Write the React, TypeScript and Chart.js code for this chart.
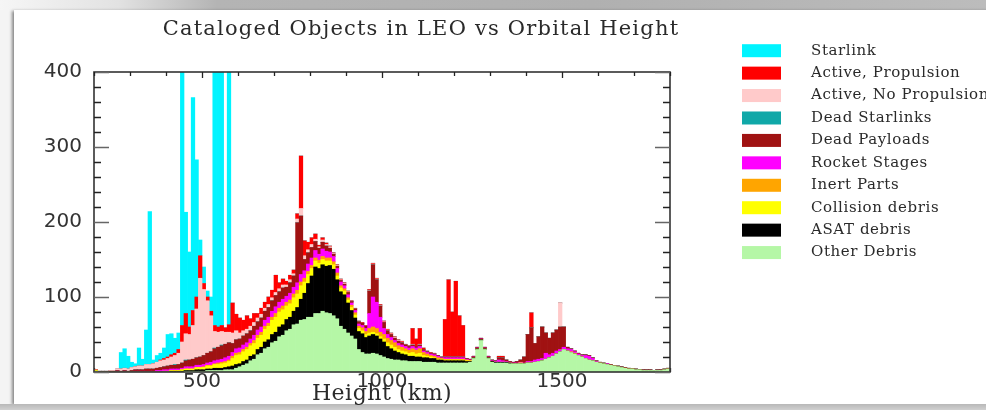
import React, { useEffect, useRef } from "react";
import { Chart, registerables } from "chart.js";
Chart.register(...registerables);

const BIN_START = 200;
const BIN_WIDTH = 10;
const X_MIN = 200;
const X_MAX = 1800;
const Y_MIN = 0;
const Y_MAX = 400;
const xTickValues = [500, 1000, 1500];
const yTickValues = [0, 100, 200, 300, 400];
const chartTitle = "Cataloged Objects in LEO vs Orbital Height";
const xAxisTitle = "Height (km)";

// 10 km bins, 200..1790 km (one row = 100 km)
const otherDebris = [
  1, 0, 0, 0, 0, 0, 0, 0, 0, 0,
  0, 0, 0, 0, 0, 0, 0, 0, 0, 0,
  0, 0, 0, 0, 0, 1, 1, 1, 1, 1,
  1, 2, 2, 2, 2, 2, 3, 3, 3, 5,
  7, 9, 11, 15, 17, 23, 25, 31, 33, 39,
  41, 47, 49, 55, 57, 63, 64, 69, 70, 73,
  73, 78, 78, 81, 79, 78, 75, 71, 61, 57,
  52, 48, 44, 30, 26, 24, 24, 25, 24, 22,
  20, 18, 17, 16, 16, 15, 15, 14, 14, 14,
  14, 13, 13, 13, 13, 12, 12, 12, 12, 12,
  12, 12, 12, 12, 13, 18, 30, 42, 30, 18,
  13, 12, 12, 12, 12, 11, 11, 11, 11, 11,
  12, 12, 13, 14, 15, 17, 19, 21, 24, 27,
  30, 28, 26, 24, 22, 20, 18, 16, 15, 13,
  12, 11, 10, 9, 8, 7, 6, 5, 4, 4,
  3, 3, 2, 2, 2, 2, 2, 2, 3, 4,
];
const asatDebris = [
  0, 0, 0, 0, 0, 0, 0, 0, 0, 0,
  0, 0, 0, 0, 0, 0, 0, 0, 0, 0,
  0, 1, 1, 1, 1, 1, 1, 1, 2, 2,
  2, 2, 2, 3, 3, 3, 3, 4, 5, 5,
  4, 5, 5, 6, 6, 7, 8, 9, 10, 11,
  12, 13, 14, 15, 16, 18, 22, 28, 35, 45,
  55, 62, 60, 62, 62, 64, 62, 52, 46, 46,
  40, 34, 28, 24, 25, 22, 24, 25, 24, 22,
  20, 16, 14, 12, 10, 9, 8, 7, 7, 6,
  6, 6, 6, 5, 5, 4, 4, 3, 3, 3,
  3, 3, 3, 2, 1, 1, 1, 1, 1, 1,
  1, 1, 1, 1, 1, 1, 0, 0, 0, 0,
  0, 0, 0, 0, 0, 0, 0, 0, 0, 0,
  0, 0, 0, 0, 0, 0, 0, 0, 0, 0,
  0, 0, 0, 0, 0, 0, 0, 0, 0, 0,
  0, 0, 0, 0, 0, 0, 0, 0, 0, 0,
];
const collisionDebris = [
  1, 0, 0, 0, 0, 0, 0, 0, 0, 0,
  0, 0, 0, 0, 0, 0, 0, 0, 0, 1,
  1, 1, 1, 1, 2, 2, 2, 2, 3, 3,
  3, 4, 4, 5, 5, 6, 6, 7, 10, 12,
  12, 13, 14, 14, 15, 15, 16, 17, 18, 19,
  20, 20, 20, 18, 18, 18, 18, 18, 15, 12,
  10, 8, 7, 7, 7, 6, 6, 5, 5, 5,
  4, 4, 4, 4, 4, 4, 4, 3, 3, 3,
  4, 5, 5, 5, 4, 4, 4, 4, 5, 4,
  5, 3, 2, 2, 1, 1, 1, 1, 1, 1,
  1, 1, 1, 1, 1, 0, 0, 0, 0, 0,
  0, 0, 0, 0, 0, 0, 0, 0, 1, 0,
  0, 0, 0, 0, 0, 0, 0, 0, 0, 0,
  0, 0, 0, 0, 0, 0, 0, 0, 0, 0,
  0, 0, 0, 0, 0, 0, 0, 0, 0, 0,
  0, 0, 0, 0, 0, 0, 0, 0, 0, 0,
];
const inertParts = [
  1, 0, 0, 0, 0, 0, 0, 0, 0, 0,
  0, 0, 0, 0, 0, 0, 0, 0, 0, 0,
  0, 0, 0, 0, 0, 0, 0, 0, 0, 0,
  1, 1, 1, 1, 2, 2, 2, 2, 3, 3,
  3, 3, 3, 3, 4, 4, 4, 4, 4, 4,
  5, 5, 5, 5, 5, 5, 5, 5, 5, 4,
  4, 4, 4, 4, 4, 4, 4, 4, 3, 3,
  3, 3, 3, 3, 4, 4, 6, 7, 7, 6,
  6, 6, 6, 6, 5, 5, 4, 4, 5, 5,
  6, 4, 3, 2, 2, 2, 1, 1, 1, 1,
  1, 1, 1, 1, 0, 0, 0, 0, 0, 0,
  0, 0, 0, 0, 0, 0, 0, 0, 0, 0,
  0, 0, 0, 0, 0, 0, 0, 0, 0, 0,
  0, 0, 1, 1, 0, 0, 0, 0, 0, 0,
  0, 0, 0, 0, 0, 0, 0, 0, 0, 0,
  0, 0, 0, 0, 0, 0, 0, 0, 0, 0,
];
const rocketStages = [
  0, 0, 0, 0, 0, 0, 1, 0, 1, 0,
  0, 1, 1, 1, 1, 1, 1, 2, 2, 2,
  2, 2, 2, 2, 2, 3, 3, 3, 3, 3,
  3, 3, 4, 4, 4, 4, 5, 5, 5, 6,
  6, 6, 6, 6, 7, 7, 7, 8, 8, 8,
  9, 8, 9, 8, 9, 9, 10, 10, 10, 10,
  10, 10, 8, 10, 9, 8, 7, 6, 5, 4,
  4, 3, 3, 3, 3, 4, 20, 40, 35, 20,
  8, 5, 4, 3, 3, 3, 3, 3, 3, 3,
  3, 2, 2, 2, 2, 2, 1, 2, 2, 2,
  2, 2, 2, 1, 1, 1, 1, 1, 1, 1,
  1, 1, 3, 2, 1, 1, 1, 1, 1, 1,
  2, 2, 3, 3, 3, 8, 4, 4, 4, 3,
  3, 3, 3, 2, 2, 2, 4, 5, 3, 1,
  0, 0, 1, 0, 0, 0, 0, 0, 0, 0,
  0, 0, 0, 0, 0, 0, 0, 0, 0, 0,
];
const deadPayloads = [
  0, 1, 1, 1, 1, 1, 1, 1, 1, 1,
  2, 2, 2, 2, 3, 3, 3, 3, 4, 4,
  5, 5, 5, 6, 7, 8, 9, 10, 10, 11,
  12, 13, 14, 16, 17, 18, 18, 18, 12, 12,
  12, 12, 12, 11, 12, 11, 12, 12, 13, 14,
  15, 14, 15, 12, 14, 15, 80, 78, 15, 15,
  14, 12, 8, 9, 7, 5, 3, 3, 2, 2,
  3, 2, 2, 3, 3, 3, 30, 43, 30, 15,
  8, 5, 4, 3, 3, 3, 2, 2, 2, 2,
  2, 2, 1, 1, 1, 1, 1, 1, 1, 1,
  1, 1, 1, 1, 1, 1, 1, 1, 1, 1,
  1, 1, 3, 4, 2, 1, 1, 2, 3, 8,
  36, 45, 22, 30, 42, 27, 22, 27, 28, 30,
  27, 2, 1, 1, 1, 1, 1, 1, 1, 1,
  1, 1, 0, 1, 0, 1, 1, 1, 1, 0,
  1, 0, 1, 1, 1, 0, 1, 1, 1, 1,
];
const deadStarlinks = [
  0, 0, 0, 0, 0, 0, 0, 0, 0, 0,
  0, 0, 0, 0, 0, 0, 0, 0, 0, 0,
  0, 0, 1, 0, 0, 1, 0, 0, 0, 0,
  0, 0, 0, 1, 0, 1, 0, 0, 0, 0,
  0, 0, 0, 0, 0, 0, 0, 0, 0, 0,
  0, 0, 0, 0, 0, 0, 0, 0, 0, 0,
  0, 0, 0, 0, 0, 0, 0, 0, 0, 0,
  0, 0, 0, 0, 0, 0, 0, 0, 0, 0,
  0, 0, 0, 0, 0, 0, 0, 0, 0, 0,
  0, 0, 0, 0, 0, 0, 0, 0, 0, 0,
  0, 0, 0, 0, 0, 0, 0, 0, 0, 0,
  0, 0, 0, 0, 0, 0, 0, 0, 0, 0,
  0, 0, 0, 0, 0, 0, 0, 0, 0, 0,
  0, 0, 0, 0, 0, 0, 0, 0, 0, 0,
  0, 0, 0, 0, 0, 0, 0, 0, 0, 0,
  0, 0, 0, 0, 0, 0, 0, 0, 0, 0,
];
const activeNoPropulsion = [
  0, 0, 0, 0, 1, 1, 2, 3, 3, 3,
  4, 4, 5, 5, 6, 6, 7, 8, 9, 9,
  10, 11, 12, 15, 28, 35, 34, 45, 65, 105,
  88, 70, 48, 22, 20, 18, 16, 14, 14, 12,
  8, 7, 6, 6, 5, 5, 5, 4, 4, 4,
  4, 4, 4, 3, 4, 3, 5, 10, 5, 4,
  4, 3, 2, 3, 2, 2, 1, 1, 1, 1,
  1, 0, 0, 0, 0, 0, 1, 1, 1, 1,
  1, 1, 1, 1, 1, 1, 0, 0, 1, 0,
  1, 0, 0, 0, 0, 0, 0, 0, 0, 0,
  0, 0, 0, 0, 0, 0, 0, 0, 0, 0,
  0, 0, 0, 0, 0, 0, 0, 0, 0, 0,
  0, 0, 0, 0, 0, 0, 0, 0, 0, 32,
  0, 0, 0, 0, 0, 0, 0, 0, 0, 0,
  0, 0, 0, 0, 0, 0, 0, 0, 0, 0,
  0, 0, 0, 0, 0, 0, 0, 0, 0, 0,
];
const activePropulsion = [
  0, 0, 0, 0, 0, 0, 0, 0, 0, 0,
  0, 0, 0, 0, 0, 0, 0, 0, 1, 2,
  2, 3, 3, 5, 22, 27, 10, 20, 16, 30,
  8, 5, 6, 8, 7, 8, 6, 10, 40, 22,
  20, 14, 18, 10, 12, 6, 8, 8, 10, 10,
  23, 8, 8, 5, 6, 5, 7, 70, 20, 10,
  9, 7, 2, 3, 2, 1, 1, 1, 1, 1,
  1, 1, 1, 1, 1, 1, 1, 1, 1, 1,
  1, 1, 1, 1, 1, 1, 1, 1, 21, 10,
  21, 2, 1, 1, 1, 0, 0, 50, 103, 60,
  101, 55, 42, 0, 0, 0, 0, 0, 0, 0,
  0, 0, 2, 2, 0, 0, 0, 0, 0, 0,
  0, 20, 0, 0, 0, 0, 0, 0, 0, 0,
  0, 0, 0, 0, 0, 0, 0, 0, 0, 0,
  0, 0, 0, 0, 0, 0, 0, 0, 0, 0,
  0, 0, 0, 0, 0, 0, 0, 0, 0, 0,
];
const starlink = [
  0, 0, 0, 0, 0, 0, 0, 22, 26, 17,
  7, 4, 24, 9, 46, 204, 5, 9, 9, 14,
  30, 28, 20, 22, 350, 135, 100, 284, 183, 21,
  22, 8, 19, 359, 360, 359, 0, 357, 0, 0,
  0, 0, 0, 0, 0, 0, 0, 0, 0, 0,
  0, 0, 0, 0, 0, 0, 0, 0, 0, 0,
  0, 0, 0, 0, 0, 0, 0, 0, 0, 0,
  0, 0, 0, 0, 0, 0, 0, 0, 0, 0,
  0, 0, 0, 0, 0, 0, 0, 0, 0, 0,
  0, 0, 0, 0, 0, 0, 0, 0, 0, 0,
  0, 0, 0, 0, 0, 0, 0, 0, 0, 0,
  0, 0, 0, 0, 0, 0, 0, 0, 0, 0,
  0, 0, 0, 0, 0, 0, 0, 0, 0, 0,
  0, 0, 0, 0, 0, 0, 0, 0, 0, 0,
  0, 0, 0, 0, 0, 0, 0, 0, 0, 0,
  0, 0, 0, 0, 0, 0, 0, 0, 0, 0,
];

// stacking order bottom -> top
const seriesLabels = [
  "Other Debris", "ASAT debris", "Collision debris", "Inert Parts", "Rocket Stages",
  "Dead Payloads", "Dead Starlinks", "Active, No Propulsion", "Active, Propulsion", "Starlink",
];
const seriesValues = [
  otherDebris, asatDebris, collisionDebris, inertParts, rocketStages,
  deadPayloads, deadStarlinks, activeNoPropulsion, activePropulsion, starlink,
];
const seriesColors = [
  "#b5f7a6", "#000000", "#ffff00", "#ffa500", "#ff00ff",
  "#a01212", "#10a8a8", "#ffcaca", "#ff0000", "#00f4ff",
];

const W = 986;
const H = 410;
const PLOT_LEFT = 94;
const PLOT_RIGHT = 670;
const PLOT_TOP = 72;
const PLOT_BOTTOM = 372;

const decorPlugin = {
  id: "decor",
  beforeDatasetsDraw(chart: any) {
    const { ctx, chartArea: a, scales } = chart;
    const x = scales.x;
    ctx.save();
    ctx.strokeStyle = "#333";
    ctx.lineWidth = 1.3;
    for (let v = X_MIN; v <= X_MAX; v += 100) {
      const px = Math.round(x.getPixelForValue(v)) + 0.5;
      const len = v % 500 === 0 ? 6 : 4;
      ctx.beginPath();
      ctx.moveTo(px, a.bottom);
      ctx.lineTo(px, a.bottom - len);
      ctx.stroke();
    }
    ctx.restore();
  },
  afterDatasetsDraw(chart: any) {
    const { ctx, chartArea: a, scales } = chart;
    const x = scales.x;
    const y = scales.y;
    ctx.save();
    ctx.strokeStyle = "#333";
    ctx.lineWidth = 1.6;
    ctx.strokeRect(a.left, a.top, a.right - a.left, a.bottom - a.top);
    ctx.lineWidth = 1.3;
    for (let v = Y_MIN; v <= Y_MAX; v += 20) {
      const py = Math.round(y.getPixelForValue(v)) + 0.5;
      const major = v % 100 === 0;
      const len = major ? 15 : 7;
      ctx.strokeStyle = major ? "#666" : "#222";
      ctx.beginPath();
      ctx.moveTo(a.left, py);
      ctx.lineTo(a.left + len, py);
      ctx.moveTo(a.right, py);
      ctx.lineTo(a.right - len, py);
      ctx.stroke();
    }
    ctx.strokeStyle = "#222";
    for (let v = X_MIN; v <= X_MAX; v += 100) {
      const px = Math.round(x.getPixelForValue(v)) + 0.5;
      const len = v % 500 === 0 ? 6 : 4;
      ctx.beginPath();
      ctx.moveTo(px, a.top);
      ctx.lineTo(px, a.top + len);
      ctx.stroke();
    }
    ctx.restore();
  },
  afterDraw(chart: any) {
    const { ctx, chartArea: a } = chart;
    ctx.save();
    ctx.fillStyle = "#2a2a2a";
    ctx.textBaseline = "middle";
    ctx.textAlign = "center";
    ctx.font = '21px "DejaVu Serif"';
    (ctx as any).letterSpacing = "1.2px";
    ctx.fillText(chartTitle, 421, 30);
    (ctx as any).letterSpacing = "0.5px";
    ctx.font = '22px "DejaVu Serif"';
    ctx.fillText(xAxisTitle, (a.left + a.right) / 2, 394);
    // legend (top of stack first)
    ctx.textAlign = "left";
    ctx.font = '15px "DejaVu Serif"';
    (ctx as any).letterSpacing = "0.6px";
    const n = seriesLabels.length;
    for (let k = 0; k < n; k++) {
      const idx = n - 1 - k;
      const cy = 50.7 + k * 22.43;
      ctx.fillStyle = seriesColors[idx];
      ctx.fillRect(742, cy - 6.5, 39, 13);
      ctx.fillStyle = "#2a2a2a";
      ctx.fillText(seriesLabels[idx], 811, cy);
    }
    (ctx as any).letterSpacing = "0px";
    ctx.restore();
  },
};

export default function App() {
  const ref = useRef<HTMLCanvasElement | null>(null);
  useEffect(() => {
    const canvas = ref.current;
    if (!canvas) return;
    const binCenters = otherDebris.map((_, i) => BIN_START + i * BIN_WIDTH + BIN_WIDTH / 2);
    const datasets = seriesValues.map((vals, s) => ({
      label: seriesLabels[s],
      data: vals.map((v, i) => ({ x: binCenters[i], y: v })),
      backgroundColor: seriesColors[s],
      borderWidth: 0,
      barPercentage: 1,
      categoryPercentage: 1,
    }));
    const chart = new Chart(canvas, {
      type: "bar",
      data: { datasets } as any,
      options: {
        responsive: false,
        maintainAspectRatio: false,
        animation: false,
        events: [],
        layout: { padding: { left: 0, right: W - PLOT_RIGHT, top: PLOT_TOP, bottom: 0 } },
        plugins: { legend: { display: false }, title: { display: false }, tooltip: { enabled: false } },
        scales: {
          x: {
            type: "linear",
            stacked: true,
            min: X_MIN,
            max: X_MAX,
            offset: false,
            grid: { display: false, drawTicks: false },
            border: { display: false },
            afterBuildTicks: (s: any) => { s.ticks = xTickValues.map((v) => ({ value: v })); },
            afterFit: (s: any) => { s.height = H - PLOT_BOTTOM; },
            ticks: {
              autoSkip: false,
              maxRotation: 0,
              padding: -2,
              color: "#333",
              font: { family: "DejaVu Sans", size: 20 },
              callback: (v: any) => String(v),
            },
          },
          y: {
            stacked: true,
            min: Y_MIN,
            max: Y_MAX,
            grid: { display: false, drawTicks: false },
            border: { display: false },
            afterBuildTicks: (s: any) => { s.ticks = yTickValues.map((v) => ({ value: v })); },
            afterFit: (s: any) => { s.width = PLOT_LEFT; },
            ticks: {
              padding: 12,
              color: "#333",
              font: { family: "DejaVu Sans", size: 20 },
              callback: (v: any) => String(v),
            },
          },
        },
      },
      plugins: [decorPlugin],
    });
    return () => chart.destroy();
  }, []);

  return (
    <div style={{ position: "fixed", left: 0, top: 0, width: W, height: H, background: "#f4f4f4", overflow: "hidden" }}>
      <div style={{ position: "absolute", left: 0, top: 0, width: W, height: 10, background: "linear-gradient(to right, #f6f6f6 0%, #e2e2e2 12%, #b4b4b4 22%, #b0b0b0 60%, #bcbcbc 100%)" }} />
      <div style={{ position: "absolute", left: 14, top: 10, right: -10, bottom: 6, background: "#fff", boxShadow: "-2px 1px 3px rgba(0,0,0,0.45)" }} />
      <div style={{ position: "absolute", left: 0, bottom: 0, width: W, height: 6, background: "linear-gradient(to bottom, #b8b8b8, #d0d0d0)" }} />
      <canvas ref={ref} width={W} height={H} style={{ position: "absolute", left: 0, top: 0, width: W, height: H }} />
    </div>
  );
}
